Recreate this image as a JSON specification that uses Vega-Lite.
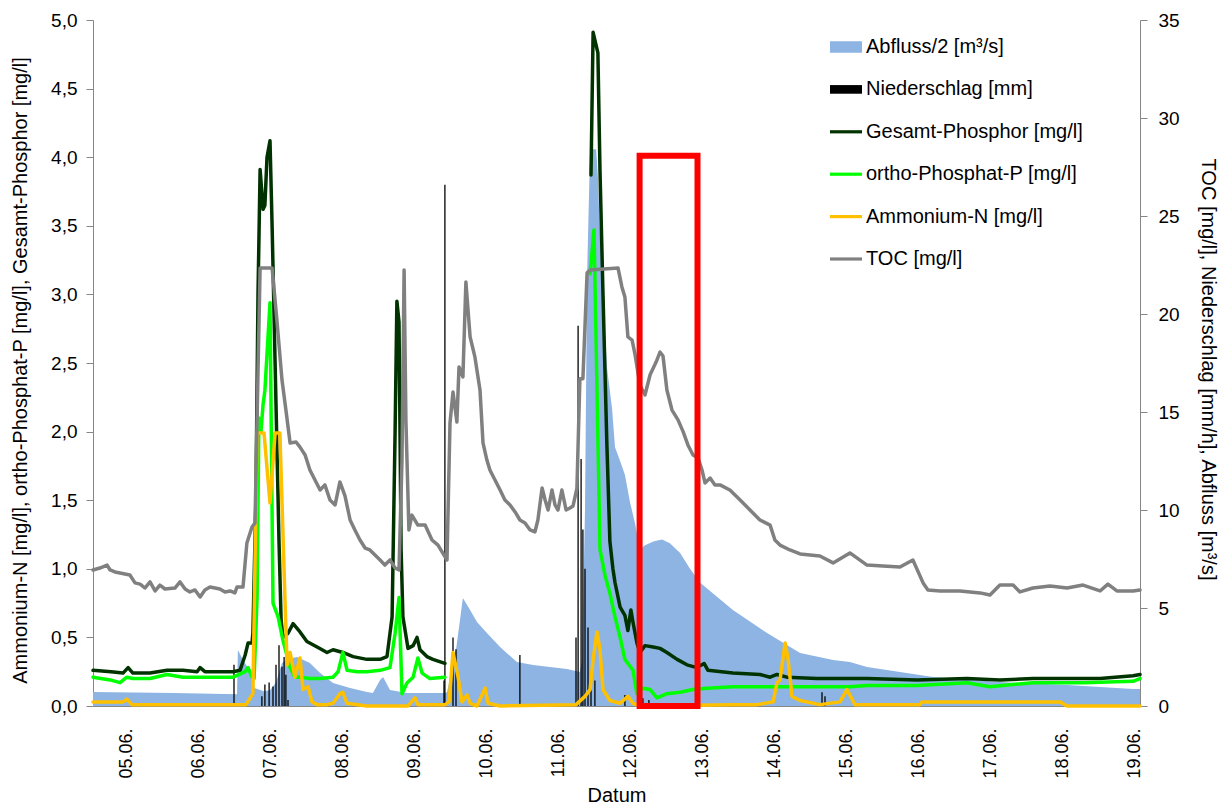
{
  "$schema": "https://vega.github.io/schema/vega-lite/v6.json",
  "width": 1047,
  "height": 686,
  "autosize": {"type": "none"},
  "padding": {"left": 93, "top": 20, "right": 85, "bottom": 101},
  "background": "#ffffff",
  "config": {
    "font": "Liberation Sans",
    "view": {"stroke": null},
    "axis": {
      "domainColor": "#868686",
      "tickColor": "#868686",
      "labelColor": "#000000",
      "titleColor": "#000000",
      "labelFont": "Liberation Sans",
      "titleFont": "Liberation Sans",
      "labelFontSize": 19,
      "titleFontSize": 20,
      "titleFontWeight": "normal",
      "grid": false,
      "tickSize": 7
    }
  },
  "datasets": {
    "abfluss": [
      {"h": 13, "r": 0.71}, {"h": 40, "r": 0.66}, {"h": 61, "r": 0.6}, {"h": 61.3, "r": 2.86}, {"h": 63, "r": 2.35},
      {"h": 64.7, "r": 1.94}, {"h": 66, "r": 1.3}, {"h": 67, "r": 0.9}, {"h": 70, "r": 0.75}, {"h": 72, "r": 0.8},
      {"h": 74, "r": 1.2}, {"h": 76, "r": 2.2}, {"h": 78, "r": 2.4}, {"h": 81, "r": 2.5}, {"h": 85.3, "r": 2.19},
      {"h": 88.7, "r": 1.68}, {"h": 93, "r": 1.17}, {"h": 98.7, "r": 0.92}, {"h": 104.3, "r": 0.71}, {"h": 106.3, "r": 0.66},
      {"h": 108.7, "r": 1.33}, {"h": 109.7, "r": 1.48}, {"h": 112, "r": 0.82}, {"h": 117.7, "r": 0.66}, {"h": 130.3, "r": 0.66},
      {"h": 131, "r": 0.7}, {"h": 134, "r": 2.86}, {"h": 136.3, "r": 5.51}, {"h": 138.7, "r": 4.9}, {"h": 141, "r": 4.29},
      {"h": 144.3, "r": 3.72}, {"h": 148.7, "r": 3.01}, {"h": 154.3, "r": 2.24}, {"h": 159.7, "r": 2.09}, {"h": 165.3, "r": 1.99},
      {"h": 171, "r": 1.89}, {"h": 175.3, "r": 1.73}, {"h": 176, "r": 2.3}, {"h": 177, "r": 10}, {"h": 177.7, "r": 22},
      {"h": 178.7, "r": 28.4}, {"h": 180.7, "r": 28.4}, {"h": 181.3, "r": 27}, {"h": 182, "r": 24}, {"h": 182.7, "r": 23.5},
      {"h": 183.3, "r": 20}, {"h": 184.3, "r": 17.3},
      {"h": 186, "r": 15.2}, {"h": 187, "r": 13.2}, {"h": 188.7, "r": 12.5}, {"h": 190.3, "r": 11.8}, {"h": 192, "r": 10.4},
      {"h": 193.7, "r": 9.3}, {"h": 195.3, "r": 8.0}, {"h": 197, "r": 8.2}, {"h": 200, "r": 8.4}, {"h": 202.7, "r": 8.5},
      {"h": 205.3, "r": 8.3}, {"h": 208.7, "r": 7.8}, {"h": 212, "r": 7.0}, {"h": 215.3, "r": 6.3}, {"h": 226.3, "r": 4.9},
      {"h": 237.7, "r": 3.72}, {"h": 248.7, "r": 2.7}, {"h": 259.7, "r": 2.35}, {"h": 265.3, "r": 2.24}, {"h": 271, "r": 1.99},
      {"h": 293, "r": 1.48}, {"h": 315.3, "r": 1.22}, {"h": 337.7, "r": 1.07}, {"h": 359.7, "r": 0.87}, {"h": 362, "r": 0.87}
    ],
    "regen": [
      {"h": 60, "r": 2.1}, {"h": 69.3, "r": 0.5}, {"h": 70.3, "r": 1.1}, {"h": 71.7, "r": 1.2}, {"h": 73, "r": 1.0},
      {"h": 74, "r": 2.1}, {"h": 75, "r": 3.1}, {"h": 76, "r": 2.0}, {"h": 76.7, "r": 2.5}, {"h": 77.3, "r": 1.6},
      {"h": 78, "r": 0.3}, {"h": 130, "r": 1.3}, {"h": 130.3, "r": 26.6}, {"h": 133, "r": 3.5}, {"h": 134, "r": 2.9},
      {"h": 155.3, "r": 2.6}, {"h": 174, "r": 3.5}, {"h": 174.7, "r": 19.4}, {"h": 175.7, "r": 12.6}, {"h": 176.3, "r": 9.0},
      {"h": 177, "r": 7.0}, {"h": 178, "r": 4.0}, {"h": 179, "r": 1.5}, {"h": 180.3, "r": 1.3}, {"h": 190.3, "r": 0.56},
      {"h": 196.3, "r": 0.4}, {"h": 198.3, "r": 0.3}, {"h": 256, "r": 0.7}, {"h": 257, "r": 0.5}
    ],
    "gp": [
      {"h": 13, "v": 0.26, "seg": 1}, {"h": 19, "v": 0.25, "seg": 1}, {"h": 23, "v": 0.24, "seg": 1}, {"h": 24.7, "v": 0.28, "seg": 1},
      {"h": 26.3, "v": 0.24, "seg": 1}, {"h": 32, "v": 0.24, "seg": 1}, {"h": 37.7, "v": 0.26, "seg": 1}, {"h": 43, "v": 0.26, "seg": 1},
      {"h": 47.7, "v": 0.25, "seg": 1}, {"h": 48.7, "v": 0.28, "seg": 1}, {"h": 50.3, "v": 0.25, "seg": 1}, {"h": 59.7, "v": 0.25, "seg": 1},
      {"h": 62, "v": 0.26, "seg": 1}, {"h": 63.7, "v": 0.37, "seg": 1}, {"h": 64.7, "v": 0.46, "seg": 1}, {"h": 66, "v": 0.46, "seg": 1},
      {"h": 66.3, "v": 0.53, "seg": 1}, {"h": 67.3, "v": 1.5, "seg": 1}, {"h": 68, "v": 3.0, "seg": 1}, {"h": 68.7, "v": 3.91, "seg": 1},
      {"h": 69.7, "v": 3.62, "seg": 1}, {"h": 70.3, "v": 3.65, "seg": 1}, {"h": 71, "v": 4.0, "seg": 1}, {"h": 72, "v": 4.12, "seg": 1},
      {"h": 72.7, "v": 3.5, "seg": 1}, {"h": 73.7, "v": 2.5, "seg": 1}, {"h": 75, "v": 1.2, "seg": 1}, {"h": 75.7, "v": 0.63, "seg": 1},
      {"h": 76.3, "v": 0.5, "seg": 1}, {"h": 78, "v": 0.53, "seg": 1}, {"h": 79.7, "v": 0.6, "seg": 1}, {"h": 82, "v": 0.54, "seg": 1},
      {"h": 84.3, "v": 0.47, "seg": 1}, {"h": 87.7, "v": 0.43, "seg": 1}, {"h": 91, "v": 0.39, "seg": 1}, {"h": 93, "v": 0.41, "seg": 1},
      {"h": 96.3, "v": 0.39, "seg": 1}, {"h": 99.7, "v": 0.36, "seg": 1}, {"h": 104.3, "v": 0.34, "seg": 1}, {"h": 108.7, "v": 0.34, "seg": 1},
      {"h": 111, "v": 0.36, "seg": 1}, {"h": 112.7, "v": 0.65, "seg": 1}, {"h": 113.7, "v": 2.0, "seg": 1}, {"h": 114.3, "v": 2.95, "seg": 1},
      {"h": 115, "v": 2.8, "seg": 1}, {"h": 115.7, "v": 1.14, "seg": 1}, {"h": 116.3, "v": 0.65, "seg": 1}, {"h": 118, "v": 0.42, "seg": 1},
      {"h": 119.7, "v": 0.44, "seg": 1}, {"h": 121, "v": 0.5, "seg": 1}, {"h": 122, "v": 0.41, "seg": 1}, {"h": 124.3, "v": 0.36, "seg": 1},
      {"h": 126.3, "v": 0.34, "seg": 1}, {"h": 130.3, "v": 0.31, "seg": 1},
      {"h": 179, "v": 3.87, "seg": 2}, {"h": 179.7, "v": 4.91, "seg": 2}, {"h": 181.3, "v": 4.76, "seg": 2}, {"h": 182, "v": 3.9, "seg": 2},
      {"h": 183, "v": 3.0, "seg": 2}, {"h": 184.3, "v": 1.9, "seg": 2}, {"h": 185.3, "v": 1.2, "seg": 2}, {"h": 186.3, "v": 1.0, "seg": 2},
      {"h": 187, "v": 0.9, "seg": 2}, {"h": 188.7, "v": 0.72, "seg": 2}, {"h": 190.3, "v": 0.66, "seg": 2}, {"h": 191.3, "v": 0.55, "seg": 2},
      {"h": 192.3, "v": 0.7, "seg": 2}, {"h": 193, "v": 0.61, "seg": 2}, {"h": 194.3, "v": 0.46, "seg": 2}, {"h": 195.3, "v": 0.39, "seg": 2},
      {"h": 197, "v": 0.44, "seg": 2}, {"h": 199.7, "v": 0.43, "seg": 2}, {"h": 202, "v": 0.42, "seg": 2}, {"h": 204.3, "v": 0.39, "seg": 2},
      {"h": 207.7, "v": 0.34, "seg": 2}, {"h": 211, "v": 0.3, "seg": 2}, {"h": 214.3, "v": 0.28, "seg": 2}, {"h": 216.7, "v": 0.31, "seg": 2},
      {"h": 218, "v": 0.26, "seg": 2}, {"h": 226.3, "v": 0.24, "seg": 2}, {"h": 235.3, "v": 0.23, "seg": 2}, {"h": 238.7, "v": 0.21, "seg": 2},
      {"h": 241, "v": 0.23, "seg": 2}, {"h": 244.3, "v": 0.21, "seg": 2}, {"h": 254.3, "v": 0.2, "seg": 2}, {"h": 265.3, "v": 0.2, "seg": 2},
      {"h": 271, "v": 0.2, "seg": 2}, {"h": 287.7, "v": 0.19, "seg": 2}, {"h": 304.3, "v": 0.2, "seg": 2}, {"h": 315.3, "v": 0.19, "seg": 2},
      {"h": 326.3, "v": 0.2, "seg": 2}, {"h": 337.7, "v": 0.2, "seg": 2}, {"h": 348.7, "v": 0.2, "seg": 2}, {"h": 359.7, "v": 0.22, "seg": 2},
      {"h": 362, "v": 0.23, "seg": 2}
    ],
    "op": [
      {"h": 13, "v": 0.21, "seg": 1}, {"h": 18.7, "v": 0.19, "seg": 1}, {"h": 22, "v": 0.17, "seg": 1}, {"h": 24.3, "v": 0.21, "seg": 1},
      {"h": 26.3, "v": 0.2, "seg": 1}, {"h": 32, "v": 0.2, "seg": 1}, {"h": 37.7, "v": 0.23, "seg": 1}, {"h": 43, "v": 0.21, "seg": 1},
      {"h": 48.7, "v": 0.21, "seg": 1}, {"h": 59.7, "v": 0.21, "seg": 1}, {"h": 63.7, "v": 0.25, "seg": 1}, {"h": 64.7, "v": 0.28, "seg": 1},
      {"h": 66, "v": 0.21, "seg": 1}, {"h": 66.7, "v": 0.2, "seg": 1}, {"h": 67.7, "v": 0.8, "seg": 1}, {"h": 68.3, "v": 2.1, "seg": 1},
      {"h": 69, "v": 2.0, "seg": 1}, {"h": 69.7, "v": 2.2, "seg": 1}, {"h": 70.3, "v": 2.3, "seg": 1}, {"h": 72, "v": 2.94, "seg": 1},
      {"h": 73, "v": 0.75, "seg": 1}, {"h": 74.7, "v": 0.65, "seg": 1}, {"h": 76.3, "v": 0.48, "seg": 1}, {"h": 78.7, "v": 0.28, "seg": 1},
      {"h": 80.3, "v": 0.21, "seg": 1}, {"h": 82, "v": 0.21, "seg": 1}, {"h": 85.3, "v": 0.2, "seg": 1}, {"h": 88.7, "v": 0.2, "seg": 1},
      {"h": 93, "v": 0.21, "seg": 1}, {"h": 94.7, "v": 0.25, "seg": 1}, {"h": 96.3, "v": 0.39, "seg": 1}, {"h": 97.7, "v": 0.26, "seg": 1},
      {"h": 101, "v": 0.25, "seg": 1}, {"h": 104.3, "v": 0.25, "seg": 1}, {"h": 108.7, "v": 0.26, "seg": 1}, {"h": 112, "v": 0.28, "seg": 1},
      {"h": 113.7, "v": 0.53, "seg": 1}, {"h": 115, "v": 0.79, "seg": 1}, {"h": 116, "v": 0.09, "seg": 1}, {"h": 117.7, "v": 0.17, "seg": 1},
      {"h": 119.7, "v": 0.21, "seg": 1}, {"h": 121.3, "v": 0.35, "seg": 1}, {"h": 122.7, "v": 0.24, "seg": 1}, {"h": 125.3, "v": 0.2, "seg": 1},
      {"h": 130.3, "v": 0.21, "seg": 1},
      {"h": 178.7, "v": 3.15, "seg": 2}, {"h": 180, "v": 3.47, "seg": 2}, {"h": 181, "v": 2.3, "seg": 2}, {"h": 182, "v": 1.14, "seg": 2},
      {"h": 183.7, "v": 0.95, "seg": 2}, {"h": 185.3, "v": 0.82, "seg": 2}, {"h": 187, "v": 0.65, "seg": 2}, {"h": 188.7, "v": 0.5, "seg": 2},
      {"h": 190.3, "v": 0.34, "seg": 2}, {"h": 192, "v": 0.29, "seg": 2}, {"h": 193, "v": 0.26, "seg": 2}, {"h": 194.3, "v": 0.09, "seg": 2},
      {"h": 196.3, "v": 0.13, "seg": 2}, {"h": 198.7, "v": 0.12, "seg": 2}, {"h": 201, "v": 0.06, "seg": 2}, {"h": 204.3, "v": 0.09, "seg": 2},
      {"h": 208.7, "v": 0.1, "seg": 2}, {"h": 213, "v": 0.12, "seg": 2}, {"h": 217.7, "v": 0.13, "seg": 2}, {"h": 226.3, "v": 0.14, "seg": 2},
      {"h": 237.7, "v": 0.14, "seg": 2}, {"h": 248.7, "v": 0.14, "seg": 2}, {"h": 265.3, "v": 0.14, "seg": 2}, {"h": 271, "v": 0.15, "seg": 2},
      {"h": 287.7, "v": 0.15, "seg": 2}, {"h": 304.3, "v": 0.17, "seg": 2}, {"h": 312, "v": 0.14, "seg": 2}, {"h": 326.3, "v": 0.17, "seg": 2},
      {"h": 343, "v": 0.17, "seg": 2}, {"h": 359.7, "v": 0.18, "seg": 2}, {"h": 362, "v": 0.2, "seg": 2}
    ],
    "nh4": [
      {"h": 13, "v": 0.03}, {"h": 23, "v": 0.03}, {"h": 24.3, "v": 0.05}, {"h": 26, "v": 0.01}, {"h": 62, "v": 0.01},
      {"h": 64, "v": 0.01}, {"h": 66.3, "v": 0.09}, {"h": 67.7, "v": 1.99}, {"h": 70, "v": 1.99}, {"h": 72, "v": 1.48},
      {"h": 73.7, "v": 1.99}, {"h": 75.3, "v": 1.99}, {"h": 77, "v": 0.77}, {"h": 77.7, "v": 0.3}, {"h": 78.7, "v": 0.39},
      {"h": 80.3, "v": 0.21}, {"h": 82, "v": 0.35}, {"h": 83, "v": 0.12}, {"h": 84.7, "v": 0.14}, {"h": 86, "v": 0.03},
      {"h": 87.7, "v": 0.01}, {"h": 91, "v": 0.01}, {"h": 93, "v": 0.02}, {"h": 95.3, "v": 0.09}, {"h": 96.3, "v": 0.1},
      {"h": 97.7, "v": 0.02}, {"h": 104.3, "v": 0.0}, {"h": 118, "v": 0.0}, {"h": 120.3, "v": 0.06}, {"h": 121.3, "v": 0.01},
      {"h": 130.3, "v": 0.01}, {"h": 131.7, "v": 0.03}, {"h": 133, "v": 0.39}, {"h": 134.7, "v": 0.21}, {"h": 136, "v": 0.03},
      {"h": 137.7, "v": 0.08}, {"h": 138.7, "v": 0.02}, {"h": 141, "v": 0.0}, {"h": 143.7, "v": 0.13}, {"h": 144.7, "v": 0.02},
      {"h": 148.7, "v": 0.0}, {"h": 174, "v": 0.01}, {"h": 177, "v": 0.07}, {"h": 178.7, "v": 0.12}, {"h": 179.7, "v": 0.34},
      {"h": 181, "v": 0.54}, {"h": 182, "v": 0.41}, {"h": 183, "v": 0.12}, {"h": 185.3, "v": 0.04}, {"h": 188.7, "v": 0.02},
      {"h": 191.3, "v": 0.07}, {"h": 193, "v": 0.02}, {"h": 195.3, "v": 0.0}, {"h": 226.3, "v": 0.01}, {"h": 234.3, "v": 0.01},
      {"h": 239.7, "v": 0.03}, {"h": 241, "v": 0.17}, {"h": 242, "v": 0.19}, {"h": 243.7, "v": 0.46}, {"h": 244.7, "v": 0.34},
      {"h": 246, "v": 0.07}, {"h": 248.7, "v": 0.04}, {"h": 255.3, "v": 0.01}, {"h": 262, "v": 0.03}, {"h": 264.3, "v": 0.12},
      {"h": 267, "v": 0.01}, {"h": 288.7, "v": 0.01}, {"h": 289.3, "v": 0.03}, {"h": 335.3, "v": 0.03}, {"h": 337.7, "v": 0.0},
      {"h": 362, "v": 0.0}
    ],
    "toc": [
      {"h": 13, "r": 6.94}, {"h": 15.3, "r": 7.04}, {"h": 17.7, "r": 7.19}, {"h": 18.7, "r": 6.94}, {"h": 20.3, "r": 6.84},
      {"h": 22, "r": 6.79}, {"h": 25.3, "r": 6.68}, {"h": 27, "r": 6.28}, {"h": 28.7, "r": 6.22}, {"h": 30.3, "r": 6.02},
      {"h": 32, "r": 6.33}, {"h": 33.7, "r": 5.87}, {"h": 35.3, "r": 6.17}, {"h": 37, "r": 5.97}, {"h": 40.3, "r": 6.02},
      {"h": 42, "r": 6.33}, {"h": 43.7, "r": 5.97}, {"h": 45.3, "r": 5.82}, {"h": 47, "r": 5.92}, {"h": 48.7, "r": 5.56},
      {"h": 50.3, "r": 5.92}, {"h": 52, "r": 6.07}, {"h": 55.3, "r": 5.97}, {"h": 57, "r": 5.82}, {"h": 58.7, "r": 5.87},
      {"h": 60.3, "r": 5.77}, {"h": 61, "r": 6.07}, {"h": 63, "r": 6.07}, {"h": 64.3, "r": 8.32}, {"h": 66, "r": 9.13},
      {"h": 67, "r": 9.34}, {"h": 68, "r": 17}, {"h": 68.7, "r": 22.35}, {"h": 72.7, "r": 22.35}, {"h": 74.3, "r": 19.69},
      {"h": 76, "r": 16.63}, {"h": 77.3, "r": 15.1}, {"h": 78.7, "r": 13.42}, {"h": 80.7, "r": 13.47}, {"h": 82, "r": 13.21},
      {"h": 83.7, "r": 12.81}, {"h": 85.3, "r": 12.04}, {"h": 88.7, "r": 11.02}, {"h": 90.3, "r": 11.28}, {"h": 92, "r": 10.51},
      {"h": 93.7, "r": 10.26}, {"h": 95.3, "r": 11.43}, {"h": 97, "r": 10.72}, {"h": 98.7, "r": 9.49}, {"h": 100.3, "r": 8.98},
      {"h": 102, "r": 8.47}, {"h": 103.7, "r": 8.06}, {"h": 105.3, "r": 7.96}, {"h": 107, "r": 7.7}, {"h": 108.7, "r": 7.45},
      {"h": 110.3, "r": 7.19}, {"h": 112, "r": 7.45}, {"h": 113.7, "r": 7.04}, {"h": 115, "r": 6.94}, {"h": 116, "r": 12.55},
      {"h": 116.7, "r": 22.24}, {"h": 117.3, "r": 14.59}, {"h": 118.3, "r": 8.98}, {"h": 119.3, "r": 9.74}, {"h": 121.3, "r": 9.23},
      {"h": 123.7, "r": 9.23}, {"h": 126, "r": 8.47}, {"h": 128, "r": 8.21}, {"h": 130, "r": 7.7}, {"h": 131, "r": 7.45},
      {"h": 132, "r": 14.44}, {"h": 133, "r": 16.02}, {"h": 134.3, "r": 14.49}, {"h": 135, "r": 17.3}, {"h": 136.3, "r": 16.79},
      {"h": 137.3, "r": 21.63}, {"h": 138.7, "r": 18.83}, {"h": 140.3, "r": 17.81}, {"h": 142, "r": 16.12}, {"h": 143, "r": 13.42},
      {"h": 144.3, "r": 12.55}, {"h": 145.3, "r": 12.04}, {"h": 147, "r": 11.53}, {"h": 148.7, "r": 11.02}, {"h": 150.3, "r": 10.51},
      {"h": 152, "r": 10.26}, {"h": 153.7, "r": 9.9}, {"h": 155.3, "r": 9.49}, {"h": 157, "r": 9.34}, {"h": 158.7, "r": 8.98},
      {"h": 160.3, "r": 8.88}, {"h": 161.3, "r": 9.49}, {"h": 162.7, "r": 11.12}, {"h": 163.7, "r": 10.51}, {"h": 164.7, "r": 10.0},
      {"h": 166, "r": 11.02}, {"h": 167, "r": 10.26}, {"h": 168, "r": 10.0}, {"h": 169.3, "r": 11.02}, {"h": 170.7, "r": 10.0},
      {"h": 172, "r": 10.1}, {"h": 173, "r": 10.2}, {"h": 174.3, "r": 11.1}, {"h": 175.3, "r": 16.7}, {"h": 176.3, "r": 16.7},
      {"h": 177.7, "r": 22.1}, {"h": 178.7, "r": 22.24}, {"h": 188, "r": 22.35}, {"h": 189.3, "r": 21.38}, {"h": 190.3, "r": 20.87},
      {"h": 191.3, "r": 18.83}, {"h": 192.7, "r": 18.67}, {"h": 193.7, "r": 17.91}, {"h": 195.3, "r": 16.38}, {"h": 197, "r": 15.87},
      {"h": 198.7, "r": 16.9}, {"h": 200.7, "r": 17.55}, {"h": 202, "r": 18.06}, {"h": 203, "r": 17.86}, {"h": 204.3, "r": 16.12},
      {"h": 206, "r": 15.1}, {"h": 208, "r": 14.6}, {"h": 209.7, "r": 14.0}, {"h": 211.3, "r": 13.32}, {"h": 213, "r": 12.81},
      {"h": 214.7, "r": 12.65}, {"h": 216, "r": 12.04}, {"h": 217, "r": 11.38}, {"h": 218.7, "r": 11.63}, {"h": 220.3, "r": 11.28},
      {"h": 222, "r": 11.28}, {"h": 225.3, "r": 11.02}, {"h": 228.7, "r": 10.51}, {"h": 232, "r": 10.0}, {"h": 235.3, "r": 9.49},
      {"h": 238.7, "r": 9.23}, {"h": 240.3, "r": 8.47}, {"h": 242, "r": 8.21}, {"h": 245.3, "r": 7.96}, {"h": 248.7, "r": 7.76},
      {"h": 255.3, "r": 7.65}, {"h": 259.7, "r": 7.3}, {"h": 265.3, "r": 7.81}, {"h": 271, "r": 7.19}, {"h": 276.3, "r": 7.14},
      {"h": 282, "r": 7.09}, {"h": 286.3, "r": 7.45}, {"h": 289.7, "r": 6.28}, {"h": 291.3, "r": 5.92}, {"h": 295.3, "r": 5.87},
      {"h": 302, "r": 5.87}, {"h": 308.7, "r": 5.77}, {"h": 312, "r": 5.66}, {"h": 315.3, "r": 6.17}, {"h": 319.7, "r": 6.17},
      {"h": 322, "r": 5.82}, {"h": 326.3, "r": 6.02}, {"h": 332, "r": 6.12}, {"h": 337.7, "r": 6.02}, {"h": 343, "r": 6.17},
      {"h": 348.7, "r": 5.87}, {"h": 351.3, "r": 6.22}, {"h": 354.3, "r": 5.87}, {"h": 359.7, "r": 5.87}, {"h": 362, "r": 5.92}
    ],
    "box": [{"h1": 195.2, "h2": 214.5, "v1": 0.0, "v2": 4.01}]
  },
  "layer": [
    {
      "data": {"name": "abfluss"},
      "mark": {"type": "area", "opacity": 1},
      "encoding": {
        "x": {
          "field": "h", "type": "quantitative",
          "scale": {"domain": [13, 362], "nice": false, "zero": false},
          "axis": {
            "title": "Datum",
            "values": [24, 48, 72, 96, 120, 144, 168, 192, 216, 240, 264, 288, 312, 336, 360],
            "labelExpr": "format(datum.value / 24 + 4, '02d') + '.06.'",
            "labelAngle": -90,
            "labelFontSize": 18,
            "ticks": false,
            "labelPadding": 22,
            "titlePadding": 7
          }
        },
        "y": {
          "field": "r", "type": "quantitative",
          "scale": {"domain": [0, 35], "nice": false, "zero": true},
          "axis": {
            "orient": "right",
            "title": "TOC [mg/l], Niederschlag [mm/h], Abfluss [m³/s]",
            "values": [0, 5, 10, 15, 20, 25, 30, 35],
            "labelPadding": 11,
            "titlePadding": 18,
            "titleAngle": 90,
            "titleY": 349
          }
        },
        "color": {
          "datum": "Abfluss/2 [m³/s]",
          "scale": {
            "domain": ["Abfluss/2 [m³/s]", "Niederschlag [mm]", "Gesamt-Phosphor [mg/l]", "ortho-Phosphat-P [mg/l]", "Ammonium-N [mg/l]", "TOC [mg/l]"],
            "range": ["#8DB4E2", "#000000", "#003300", "#00FF00", "#FFC000", "#808080"]
          },
          "legend": {
            "title": null,
            "orient": "none",
            "legendX": 737,
            "legendY": 11,
            "padding": 0,
            "labelFont": "Liberation Sans",
            "labelFontSize": 20,
            "labelColor": "#000000",
            "labelOffset": 4,
            "symbolSize": 1024,
            "symbolStrokeWidth": 0,
            "symbolOpacity": 1,
            "symbolType": {"expr": "datum.value === 'Abfluss/2 [m³/s]' ? 'M-1,-0.36H1V0.36H-1Z' : (datum.value === 'Niederschlag [mm]' ? 'M-1,-0.27H1V0.27H-1Z' : 'M-1,-0.1H1V0.1H-1Z')"},
            "rowPadding": 16.4,
            "labelLimit": 400
          }
        }
      }
    },
    {
      "data": {"name": "regen"},
      "mark": {"type": "rule", "strokeWidth": 1.3, "color": "#000000"},
      "encoding": {
        "x": {"field": "h", "type": "quantitative"},
        "y": {"field": "r", "type": "quantitative", "scale": {"domain": [0, 35], "nice": false}, "axis": null},
        "y2": {"datum": 0}
      }
    },
    {
      "data": {"name": "gp"},
      "mark": {"type": "line", "strokeWidth": 3.5, "strokeJoin": "round", "strokeCap": "round", "color": "#003300"},
      "encoding": {
        "x": {"field": "h", "type": "quantitative"},
        "y": {
          "field": "v", "type": "quantitative",
          "scale": {"domain": [0, 5], "nice": false},
          "axis": {
            "orient": "left",
            "title": "Ammonium-N [mg/l], ortho-Phosphat-P [mg/l], Gesamt-Phosphor [mg/l]",
            "values": [0, 0.5, 1, 1.5, 2, 2.5, 3, 3.5, 4, 4.5, 5],
            "labelExpr": "replace(format(datum.value, '.1f'), '.', ',')",
            "labelPadding": 9,
            "titlePadding": 20,
            "titleY": 350
          }
        },
        "detail": {"field": "seg"}
      }
    },
    {
      "data": {"name": "op"},
      "mark": {"type": "line", "strokeWidth": 3.5, "strokeJoin": "round", "strokeCap": "round", "color": "#00FF00"},
      "encoding": {
        "x": {"field": "h", "type": "quantitative"},
        "y": {"field": "v", "type": "quantitative", "scale": {"domain": [0, 5], "nice": false}, "axis": null},
        "detail": {"field": "seg"}
      }
    },
    {
      "data": {"name": "nh4"},
      "mark": {"type": "line", "strokeWidth": 3.5, "strokeJoin": "round", "strokeCap": "round", "color": "#FFC000"},
      "encoding": {
        "x": {"field": "h", "type": "quantitative"},
        "y": {"field": "v", "type": "quantitative", "scale": {"domain": [0, 5], "nice": false}, "axis": null}
      }
    },
    {
      "data": {"name": "toc"},
      "mark": {"type": "line", "strokeWidth": 3.5, "strokeJoin": "round", "strokeCap": "round", "color": "#808080"},
      "encoding": {
        "x": {"field": "h", "type": "quantitative"},
        "y": {"field": "r", "type": "quantitative", "scale": {"domain": [0, 35], "nice": false}, "axis": null}
      }
    },
    {
      "data": {"name": "box"},
      "mark": {"type": "rect", "filled": false, "stroke": "#FF0000", "strokeWidth": 6},
      "encoding": {
        "x": {"field": "h1", "type": "quantitative"},
        "x2": {"field": "h2"},
        "y": {"field": "v1", "type": "quantitative", "scale": {"domain": [0, 5], "nice": false}, "axis": null},
        "y2": {"field": "v2"}
      }
    }
  ],
  "resolve": {"scale": {"y": "independent"}}
}
